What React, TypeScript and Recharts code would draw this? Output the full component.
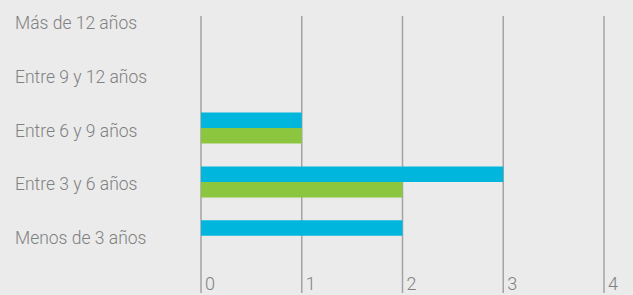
import React from 'react';
import { BarChart, Bar, XAxis, YAxis, CartesianGrid } from 'recharts';

const categories = ['Más de 12 años', 'Entre 9 y 12 años', 'Entre 6 y 9 años', 'Entre 3 y 6 años', 'Menos de 3 años'];
const blueValues = [0, 0, 1, 3, 2];
const greenValues = [0, 0, 1, 2, 0];
const xTicks = [0, 1, 2, 3, 4];

const data = categories.map((name, i) => ({
  name,
  azul: blueValues[i],
  verde: greenValues[i],
}));

const textColor = '#808080';
const font = "Roboto, sans-serif";

const CategoryTick = ({ y, payload }: any) => (
  <text
    x={15}
    y={y}
    dy={8}
    fill={textColor}
    textAnchor="start"
    fontSize={17.5}
    fontWeight={300}
    fontFamily={font}
  >
    {payload.value}
  </text>
);

const ValueTick = ({ x, y, payload }: any) => (
  <text
    x={x + 4}
    y={y}
    dy={19}
    fill={textColor}
    textAnchor="start"
    fontSize={18}
    fontWeight={300}
    fontFamily={font}
  >
    {payload.value}
  </text>
);

const App = () => {
  return (
    <div style={{ position: 'absolute', left: 0, top: 0, width: 633, height: 295, background: '#ebebeb' }}>
      <BarChart
        width={633}
        height={295}
        data={data}
        layout="vertical"
        margin={{ top: -6, right: 29, bottom: 2, left: 0 }}
        barGap={0}
        barSize={15.5}
      >
        <CartesianGrid vertical horizontal={false} stroke="#a3a3a3" strokeWidth={1.5} y={16} height={277} />
        <XAxis
          type="number"
          domain={[0, 4]}
          ticks={xTicks}
          axisLine={false}
          tickLine={false}
          height={30}
          tick={<ValueTick />}
          interval={0}
        />
        <YAxis
          type="category"
          dataKey="name"
          width={201}
          axisLine={false}
          tickLine={false}
          tick={<CategoryTick />}
          interval={0}
        />
        <Bar dataKey="azul" fill="#00b6dc" isAnimationActive={false} />
        <Bar dataKey="verde" fill="#8cc63f" isAnimationActive={false} />
      </BarChart>
    </div>
  );
};

export default App;
